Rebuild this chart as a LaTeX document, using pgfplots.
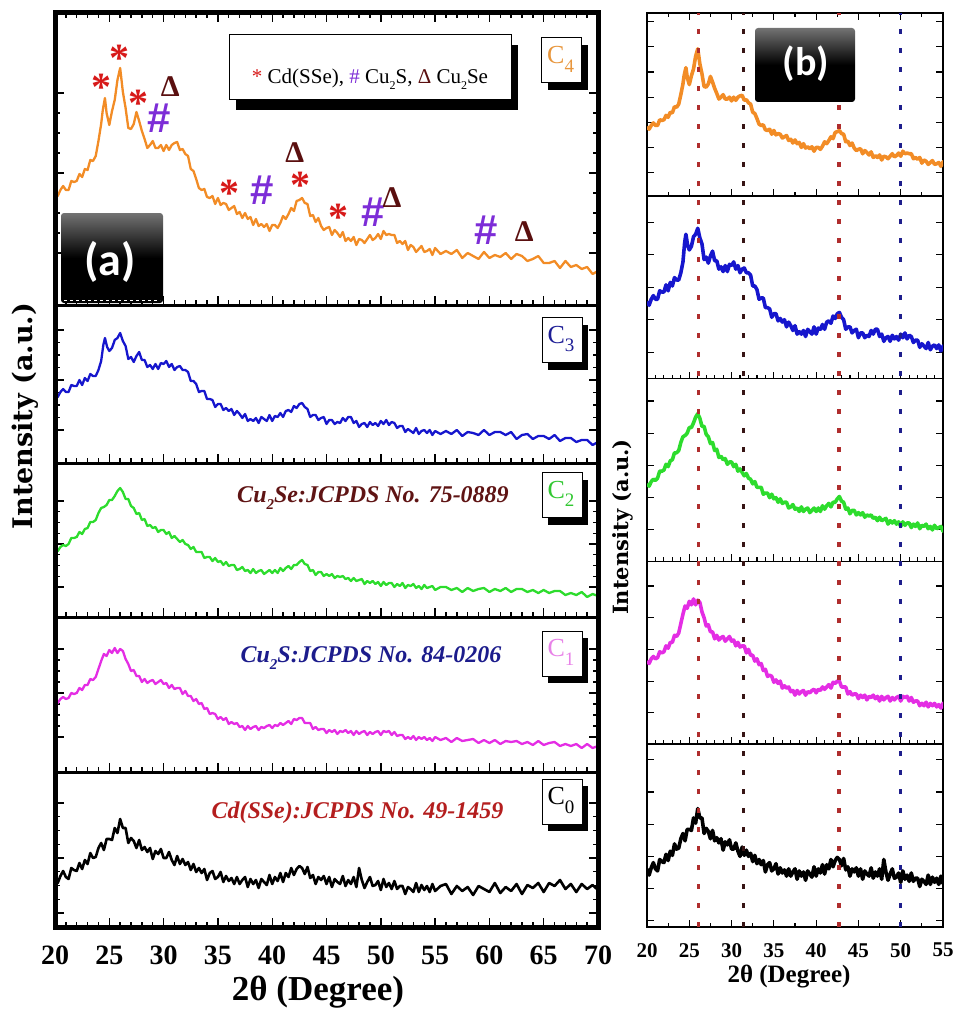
\documentclass[border=0pt]{standalone}
\usepackage{pgfplots}
\pgfplotsset{compat=1.18}
\usepackage{pgfplotstable}
\usepackage{fontspec}
\setmainfont{Liberation Serif}
\newfontfamily\djs{DejaVu Serif}
\newfontfamily\carl{Carlito}
\newfontfamily\lsans{Liberation Sans}
\newcommand{\fs}[1]{\fontsize{#1}{#1}\selectfont}

\definecolor{cOr}{RGB}{242,140,38}
\definecolor{cBl}{RGB}{22,22,205}
\definecolor{cGr}{RGB}{45,220,45}
\definecolor{cMg}{RGB}{228,45,228}
\definecolor{lOr}{RGB}{232,150,60}
\definecolor{lBl}{RGB}{30,30,150}
\definecolor{lGr}{RGB}{50,200,50}
\definecolor{lMg}{RGB}{232,130,232}
\definecolor{tMar}{RGB}{95,20,20}
\definecolor{tNav}{RGB}{28,28,140}
\definecolor{tRed}{RGB}{180,30,30}
\definecolor{sRed}{RGB}{215,25,25}
\definecolor{sPur}{RGB}{125,45,215}
\definecolor{sBro}{RGB}{90,15,15}
\definecolor{dRed}{RGB}{175,45,45}
\definecolor{dDk}{RGB}{55,20,20}
\definecolor{dBl}{RGB}{30,30,140}

\pgfplotstableread[row sep=\\]{x y\\20 113\\20.25 109\\20.5 115\\20.75 119\\21 115\\21.25 115\\21.5 124\\21.75 123\\22 124\\22.25 131\\22.5 128\\22.75 136\\23 135\\23.25 145\\23.5 144\\23.75 149\\24 164\\24.25 181\\24.4 195\\24.6 207\\24.75 192\\25 180\\25.25 194\\25.5 205\\25.75 225\\26 237\\26.25 213\\26.5 197\\26.75 177\\27 176\\27.25 181\\27.5 193\\27.75 184\\28 174\\28.25 166\\28.5 157\\28.75 160\\29 164\\29.25 157\\29.5 157\\29.75 160\\30 154\\30.25 160\\30.5 155\\30.75 160\\31 162\\31.25 163\\31.5 155\\31.75 156\\32 151\\32.25 149\\32.5 136\\32.75 134\\33 126\\33.25 117\\33.5 115\\33.75 116\\34 108\\34.25 107\\34.5 109\\34.75 101\\35 107\\35.25 100\\35.5 102\\35.75 101\\36 95\\36.25 97\\36.5 99\\36.75 91\\37 93\\37.25 87\\37.5 92\\37.75 86\\38 88\\38.25 80\\38.5 86\\38.75 79\\39 81\\39.25 78\\39.5 81\\39.75 74\\40 80\\40.25 80\\40.5 77\\40.75 82\\41 89\\41.25 86\\41.5 91\\41.75 97\\42 94\\42.25 104\\42.5 105\\42.75 107\\43 102\\43.25 101\\43.5 89\\43.75 90\\44 83\\44.25 87\\44.5 79\\44.75 75\\45 77\\45.25 78\\45.5 70\\45.75 75\\46 72\\46.25 68\\46.5 73\\46.75 64\\47 67\\47.25 64\\47.5 68\\47.75 60\\48 66\\48.25 65\\48.5 62\\48.75 66\\49 70\\49.25 65\\49.5 67\\49.75 71\\50 66\\50.25 74\\50.5 70\\50.75 71\\51 70\\51.25 70\\51.5 62\\51.75 64\\52 61\\52.25 64\\52.5 55\\52.75 60\\53 58\\53.25 53\\53.5 56\\53.75 59\\54 53\\54.25 54\\54.5 56\\54.75 50\\55 57\\55.5 51\\56 54\\56.5 51\\57 55\\57.5 47\\58 52\\58.5 49\\59 46\\59.5 53\\60 47\\60.5 50\\61 48\\61.5 52\\62 46\\62.5 51\\63 49\\63.5 44\\64 46\\64.5 49\\65 42\\65.5 42\\66 44\\66.5 37\\67 44\\67.5 38\\68 40\\68.5 36\\69 38\\69.5 31\\70 34\\}\tCfour

\pgfplotstableread[row sep=\\]{x y\\20 69\\20.25 66\\20.5 71\\20.75 74\\21 71\\21.25 71\\21.5 78\\21.75 77\\22 77\\22.25 83\\22.5 78\\22.75 85\\23 82\\23.25 89\\23.5 87\\23.75 87\\24 93\\24.25 102\\24.45 118\\24.6 125\\24.8 116\\25 112\\25.25 115\\25.5 123\\25.75 125\\26 130\\26.25 122\\26.5 117\\26.75 104\\27 106\\27.25 101\\27.5 107\\27.75 111\\28 103\\28.25 103\\28.5 96\\28.75 98\\29 94\\29.25 99\\29.5 94\\29.75 100\\30 99\\30.25 102\\30.5 96\\30.75 99\\31 93\\31.25 96\\31.5 97\\31.75 93\\32 93\\32.25 91\\32.5 82\\32.75 82\\33 79\\33.25 71\\33.5 72\\33.75 72\\34 64\\34.25 64\\34.5 63\\34.75 56\\35 59\\35.25 59\\35.5 53\\35.75 55\\36 52\\36.25 54\\36.5 48\\36.75 52\\37 49\\37.25 45\\37.5 49\\37.75 42\\38 44\\38.25 42\\38.5 45\\38.75 40\\39 46\\39.25 44\\39.5 42\\39.75 48\\40 42\\40.25 47\\40.5 46\\40.75 50\\41 46\\41.25 52\\41.5 53\\41.75 51\\42 57\\42.25 55\\42.5 59\\42.75 60\\43 56\\43.25 54\\43.5 46\\43.75 48\\44 48\\44.25 43\\44.5 45\\44.75 46\\45 39\\45.25 43\\45.5 43\\45.75 39\\46 41\\46.25 40\\46.5 45\\46.75 42\\47 46\\47.25 46\\47.5 40\\47.75 42\\48 36\\48.25 39\\48.5 40\\48.75 36\\49 41\\49.25 38\\49.5 40\\49.75 37\\50 42\\50.25 39\\50.5 43\\50.75 38\\51 41\\51.25 40\\51.5 35\\51.75 37\\52 37\\52.25 31\\52.5 34\\52.75 32\\53 30\\53.25 35\\53.5 29\\53.75 32\\54 33\\54.25 30\\54.5 33\\54.75 28\\55 32\\55.5 29\\56 32\\56.5 29\\57 33\\57.5 27\\58 31\\58.5 30\\59 28\\59.5 33\\60 28\\60.5 31\\61 31\\61.5 28\\62 31\\62.5 24\\63 28\\63.5 29\\64 24\\64.5 27\\65 27\\65.5 24\\66 28\\66.5 22\\67 25\\67.5 25\\68 21\\68.5 23\\69 23\\69.5 18\\70 21\\}\tCthree

\pgfplotstableread[row sep=\\]{x y\\20 68\\20.25 66\\20.5 70\\20.75 72\\21 71\\21.25 73\\21.5 79\\21.75 79\\22 80\\22.25 85\\22.5 83\\22.75 88\\23 89\\23.25 95\\23.5 95\\23.75 97\\24 104\\24.25 109\\24.5 110\\24.75 112\\25 117\\25.25 117\\25.5 121\\25.75 126\\26 129\\26.25 125\\26.5 118\\26.75 118\\27 111\\27.25 109\\27.5 103\\27.75 104\\28 97\\28.25 98\\28.5 91\\28.75 92\\29 89\\29.25 90\\29.5 85\\29.75 87\\30 87\\30.25 83\\30.5 85\\30.75 79\\31 81\\31.25 78\\31.5 75\\31.75 77\\32 73\\32.25 72\\32.5 68\\32.75 70\\33 65\\33.25 65\\33.5 65\\33.75 59\\34 60\\34.25 60\\34.5 56\\34.75 59\\35 55\\35.25 56\\35.5 52\\35.75 55\\36 51\\36.25 52\\36.5 52\\36.75 47\\37 48\\37.25 50\\37.5 46\\37.75 47\\38 44\\38.25 48\\38.5 44\\38.75 46\\39 47\\39.25 43\\39.5 45\\39.75 47\\40 44\\40.25 47\\40.5 44\\40.75 49\\41 46\\41.25 49\\41.5 51\\41.75 48\\42 52\\42.25 52\\42.5 55\\42.75 57\\43 53\\43.25 52\\43.5 46\\43.75 47\\44 42\\44.25 45\\44.5 45\\44.75 41\\45 43\\45.25 41\\45.5 43\\45.75 39\\46 41\\46.25 40\\46.5 41\\46.75 38\\47 39\\47.25 36\\47.5 39\\47.75 36\\48 37\\48.25 38\\48.5 33\\48.75 36\\49 34\\49.25 36\\49.5 33\\49.75 35\\50 31\\50.25 35\\50.5 32\\50.75 34\\51 34\\51.25 30\\51.5 33\\51.75 31\\52 34\\52.25 29\\52.5 32\\52.75 31\\53 33\\53.25 29\\53.5 31\\53.75 28\\54 32\\54.25 29\\54.5 30\\54.75 31\\55 27\\55.5 30\\56 30\\56.5 27\\57 29\\57.5 25\\58 29\\58.5 26\\59 28\\59.5 29\\60 25\\60.5 28\\61 26\\61.5 29\\62 25\\62.5 28\\63 28\\63.5 25\\64 27\\64.5 24\\65 27\\65.5 24\\66 26\\66.5 26\\67 22\\67.5 24\\68 22\\68.5 25\\69 20\\69.5 23\\70 21\\}\tCtwo

\pgfplotstableread[row sep=\\]{x y\\20 71\\20.25 69\\20.5 73\\20.75 75\\21 73\\21.25 74\\21.5 79\\21.75 78\\22 79\\22.25 84\\22.5 82\\22.75 87\\23 87\\23.25 93\\23.5 92\\23.75 95\\24 103\\24.25 111\\24.5 118\\24.75 116\\25 122\\25.25 119\\25.5 124\\25.75 119\\26 123\\26.25 121\\26.5 113\\26.75 108\\27 101\\27.25 102\\27.5 96\\27.75 96\\28 90\\28.25 93\\28.5 89\\28.75 91\\29 92\\29.25 88\\29.5 90\\29.75 92\\30 88\\30.25 89\\30.5 84\\30.75 87\\31 83\\31.25 84\\31.5 84\\31.75 78\\32 81\\32.25 76\\32.5 76\\32.75 71\\33 73\\33.25 68\\33.5 69\\33.75 63\\34 64\\34.25 58\\34.5 59\\34.75 58\\35 53\\35.25 55\\35.5 52\\35.75 54\\36 48\\36.25 50\\36.5 48\\36.75 49\\37 45\\37.25 46\\37.5 42\\37.75 46\\38 43\\38.25 45\\38.5 46\\38.75 42\\39 45\\39.25 44\\39.5 46\\39.75 47\\40 44\\40.25 47\\40.5 46\\40.75 49\\41 47\\41.25 49\\41.5 51\\41.75 48\\42 53\\42.25 52\\42.5 54\\42.75 54\\43 49\\43.25 49\\43.5 49\\43.75 43\\44 45\\44.25 42\\44.5 43\\44.75 43\\45 39\\45.25 42\\45.5 40\\45.75 42\\46 38\\46.25 41\\46.5 40\\46.75 42\\47 39\\47.25 41\\47.5 37\\47.75 41\\48 38\\48.25 40\\48.5 41\\48.75 37\\49 40\\49.25 38\\49.5 40\\49.75 41\\50 37\\50.25 41\\50.5 40\\50.75 41\\51 37\\51.25 40\\51.5 36\\51.75 37\\52 37\\52.25 33\\52.5 35\\52.75 33\\53 36\\53.25 32\\53.5 35\\53.75 33\\54 35\\54.25 32\\54.5 34\\54.75 31\\55 35\\55.5 32\\56 34\\56.5 30\\57 34\\57.5 31\\58 32\\58.5 33\\59 29\\59.5 32\\60 29\\60.5 32\\61 28\\61.5 31\\62 30\\62.5 31\\63 28\\63.5 30\\64 27\\64.5 31\\65 27\\65.5 29\\66 30\\66.5 26\\67 28\\67.5 26\\68 28\\68.5 24\\69 28\\69.5 24\\70 26\\}\tCone

\pgfplotstableread[row sep=\\]{x y\\20 50\\20.25 44\\20.5 51\\20.75 56\\21 50\\21.25 48\\21.5 59\\21.75 57\\22 56\\22.25 64\\22.5 58\\22.75 67\\23 63\\23.25 74\\23.5 69\\23.75 70\\24 79\\24.25 84\\24.5 77\\24.75 88\\25 88\\25.25 87\\25.5 99\\25.75 94\\26 108\\26.25 99\\26.5 99\\26.75 84\\27 89\\27.25 86\\27.5 79\\27.75 87\\28 77\\28.25 80\\28.5 75\\28.75 79\\29 68\\29.25 76\\29.5 73\\29.75 78\\30 69\\30.25 69\\30.5 75\\30.75 67\\31 62\\31.25 71\\31.5 63\\31.75 68\\32 62\\32.25 65\\32.5 57\\32.75 63\\33 55\\33.25 59\\33.5 54\\33.75 58\\34 47\\34.25 54\\34.5 56\\34.75 48\\35 50\\35.25 55\\35.5 45\\35.75 51\\36 46\\36.25 49\\36.5 43\\36.75 50\\37 43\\37.25 47\\37.5 50\\37.75 40\\38 48\\38.25 43\\38.5 47\\38.75 39\\39 48\\39.25 45\\39.5 42\\39.75 52\\40 43\\40.25 50\\40.5 46\\40.75 54\\41 45\\41.25 54\\41.5 50\\41.75 59\\42 52\\42.25 58\\42.5 61\\42.75 59\\43 53\\43.25 60\\43.5 49\\43.75 52\\44 43\\44.25 50\\44.5 47\\44.75 51\\45 43\\45.25 50\\45.5 40\\45.75 48\\46 45\\46.25 43\\46.5 51\\46.75 41\\47 47\\47.25 43\\47.5 50\\47.75 40\\48 59\\48.25 47\\48.5 39\\48.75 45\\49 50\\49.25 41\\49.5 42\\49.75 46\\50 37\\50.25 48\\50.5 40\\50.75 44\\51 38\\51.25 46\\51.5 38\\51.75 41\\52 41\\52.25 33\\52.5 40\\52.75 38\\53 35\\53.25 44\\53.5 35\\53.75 42\\54 37\\54.25 41\\54.5 35\\54.75 43\\55 36\\55.5 41\\56 43\\56.5 33\\57 41\\57.5 36\\58 40\\58.5 32\\59 41\\59.5 38\\60 35\\60.5 44\\61 34\\61.5 40\\62 36\\62.5 43\\63 33\\63.5 42\\64 39\\64.5 44\\65 35\\65.5 44\\66 41\\66.5 47\\67 38\\67.5 43\\68 35\\68.5 43\\69 38\\69.5 42\\70 37\\}\tCzero

\pgfplotsset{
  pa/.style={scale only axis, width=543pt, xmin=20, xmax=70, ymin=0,
    xtick={20,25,...,70}, minor x tick num=4, xticklabels={}, yticklabels={},
    tick align=inside, axis line style={line width=3pt},
    tick style={black, line width=1.4pt}, major tick length=9pt, minor tick length=5pt,
    xtick pos=left, ytick pos=both, minor y tick num=3, anchor=south west},
  pb/.style={scale only axis, width=296pt, height=182.8pt, xmin=20, xmax=55,
    xtick={20,25,...,55}, xticklabels={}, yticklabels={},
    tick align=inside, axis line style={line width=1.6pt},
    tick style={black, line width=1.1pt}, major tick length=7pt, minor tick length=4pt,
    xtick pos=left, ytick pos=both, anchor=south west},
  ca/.style={line width=2.3pt, line join=round},
  cb/.style={line width=3.6pt, line join=round},
}

\newcommand{\clab}[4]{%
  \fill[black] (#1-20+6,-#2-22.5-7) rectangle (#1+20+6,-#2+22.5-7);
  \filldraw[fill=white,draw=black,line width=1pt] (#1-20,-#2-22.5) rectangle (#1+20,-#2+22.5);
  \node[text=#3, font=\fs{26}, inner sep=0pt] at (#1-1,-#2+1) {C\raisebox{-0.32em}{\fs{19}#4}};
}

\begin{document}
\begin{tikzpicture}[x=1pt,y=1pt]
\useasboundingbox (0,0) rectangle (956,-1011);

% ---------- panel (a) ----------
\begin{axis}[pa, height=292pt, ymax=292, at={(55pt,-305pt)}, xtick pos=both, ytick={52,132,212}]
\addplot[cOr, ca] table[x=x,y=y] {\tCfour};
\node[text=sRed, font=\bfseries\fs{40}, yshift=-5pt] at (axis cs:24.27,223) {*};
\node[text=sRed, font=\bfseries\fs{40}, yshift=-5pt] at (axis cs:25.97,252) {*};
\node[text=sRed, font=\bfseries\fs{40}, yshift=-5pt] at (axis cs:27.68,207) {*};
\node[text=sPur, font=\lsans\bfseries\fs{42}] at (axis cs:29.56,187) {\#};
\node[text=sBro, font=\bfseries\fs{30}] at (axis cs:30.62,218) {Δ};
\node[text=sRed, font=\bfseries\fs{40}, yshift=-5pt] at (axis cs:36.08,117) {*};
\node[text=sPur, font=\lsans\bfseries\fs{42}] at (axis cs:39.06,115) {\#};
\node[text=sBro, font=\bfseries\fs{30}] at (axis cs:42.07,152) {Δ};
\node[text=sRed, font=\bfseries\fs{40}, yshift=-5pt] at (axis cs:42.6,125) {*};
\node[text=sRed, font=\bfseries\fs{40}, yshift=-5pt] at (axis cs:46.1,93) {*};
\node[text=sPur, font=\lsans\bfseries\fs{42}] at (axis cs:49.28,93) {\#};
\node[text=sBro, font=\bfseries\fs{30}] at (axis cs:51.03,107) {Δ};
\node[text=sPur, font=\lsans\bfseries\fs{42}] at (axis cs:59.69,75) {\#};
\node[text=sBro, font=\bfseries\fs{30}] at (axis cs:63.2,73) {Δ};
\end{axis}

\begin{axis}[pa, height=158pt, ymax=158, at={(55pt,-463pt)}, ytick={33,83,133}]
\addplot[cBl, ca] table[x=x,y=y] {\tCthree};
\end{axis}

\begin{axis}[pa, height=154pt, ymax=154, at={(55pt,-617pt)}, ytick={30,73,116}]
\addplot[cGr, ca] table[x=x,y=y] {\tCtwo};
\end{axis}

\begin{axis}[pa, height=155pt, ymax=155, at={(55pt,-772pt)}, ytick={35,79,123}]
\addplot[cMg, ca] table[x=x,y=y] {\tCone};
\end{axis}

\begin{axis}[pa, height=155pt, ymax=155, at={(55pt,-927pt)}, ytick={14,69,124},
  xticklabels={20,25,30,35,40,45,50,55,60,65,70},
  xticklabel style={font=\bfseries\fs{28}, inner sep=0pt, yshift=-18.5pt}]
\addplot[black, ca, line width=2.6pt] table[x=x,y=y] {\tCzero};
\end{axis}

\draw[line width=5pt] (55,-13) rectangle (598,-927);

% labels and boxes in (a)
\fill[black] (229.6+6.5,-35-10) rectangle (511+6.5,-100-10);
\filldraw[fill=white,draw=black,line width=1pt] (229.6,-35) rectangle (511,-100);
\node[anchor=base, font=\fs{21}, inner sep=0pt] at (370,-83.5)
  {\textcolor{sRed}{*} Cd(SSe), \textcolor{sPur}{\#} Cu\raisebox{-0.3em}{\fs{12}2}S, \textcolor{sBro}{Δ} Cu\raisebox{-0.3em}{\fs{12}2}Se};

\clab{561.6}{60.5}{lOr}{4}
\clab{562}{340}{lBl}{3}
\clab{562}{495}{lGr}{2}
\clab{562}{653.5}{lMg}{1}
\clab{562}{801.5}{black}{0}

\node[anchor=base, text=tMar, font=\bfseries\itshape\fs{24}, inner sep=0pt] at (373,-502)
  {Cu\raisebox{-0.3em}{\fs{15}2}Se:JCPDS No. 75-0889};
\node[anchor=base, text=tNav, font=\bfseries\itshape\fs{24}, inner sep=0pt] at (371,-662)
  {Cu\raisebox{-0.3em}{\fs{15}2}S:JCPDS No. 84-0206};
\node[anchor=base, text=tRed, font=\bfseries\itshape\fs{24}, inner sep=0pt] at (357.5,-818)
  {Cd(SSe):JCPDS No. 49-1459};

\shade[top color=black!55, bottom color=black, middle color=black, rounded corners=3pt] (61,-213) rectangle (163,-303);
\draw[white, dashed, line width=0.6pt] (64,-300) -- (160,-300);
\node[white, font=\carl\bfseries\fs{46}] at (110,-262) {(a)};

\node[rotate=90, font=\djs\bfseries\fs{27}] at (25,-416) {Intensity (a.u.)};
\node[font=\bfseries\fs{35}] at (318,-992) {2θ (Degree)};

% ---------- panel (b) ----------
\begin{axis}[pb, at={(647pt,-195.8pt)}, ymin=3, ymax=294, xtick pos=both, minor x tick num=1, ytick distance=40]
\addplot[cOr, cb] table[x=x,y=y] {\tCfour};
\end{axis}
\begin{axis}[pb, at={(647pt,-378.6pt)}, ymin=5, ymax=157, minor x tick num=4, ytick distance=27]
\addplot[cBl, cb] table[x=x,y=y] {\tCthree};
\end{axis}
\begin{axis}[pb, at={(647pt,-561.4pt)}, ymin=0.6, ymax=159.5, minor x tick num=4, ytick distance=28]
\addplot[cGr, cb] table[x=x,y=y] {\tCtwo};
\end{axis}
\begin{axis}[pb, at={(647pt,-744.2pt)}, ymin=0.2, ymax=156, minor x tick num=4, ytick distance=27]
\addplot[cMg, cb] table[x=x,y=y] {\tCone};
\end{axis}
\begin{axis}[pb, at={(647pt,-927pt)}, ymin=-6, ymax=170, minor x tick num=1, ytick distance=31,
  xticklabels={20,25,30,35,40,45,50,55},
  xticklabel style={font=\bfseries\fs{21}, inner sep=0pt, yshift=-16pt}]
\addplot[black, cb] table[x=x,y=y] {\tCzero};
\end{axis}

\begin{axis}[scale only axis, width=296pt, height=914pt, at={(647pt,-927pt)}, anchor=south west,
  xmin=20, xmax=55, ymin=0, ymax=1, hide axis, clip=false]
\addplot[dRed, line width=3.5pt, dash pattern=on 5pt off 14pt] coordinates {(26.1,0) (26.1,1)};
\addplot[dDk, line width=3.5pt, dash pattern=on 5pt off 14pt] coordinates {(31.4,0) (31.4,1)};
\addplot[dRed, line width=3.5pt, dash pattern=on 5pt off 14pt] coordinates {(42.7,0) (42.7,1)};
\addplot[dBl, line width=3.5pt, dash pattern=on 5pt off 14pt] coordinates {(50,0) (50,1)};
\end{axis}

\shade[top color=black!55, bottom color=black, middle color=black, rounded corners=3pt] (755,-28) rectangle (855,-102);
\node[white, font=\carl\bfseries\fs{40}] at (806,-64) {(b)};

\node[rotate=90, font=\djs\bfseries\fs{21}] at (623,-527) {Intensity (a.u.)};
\node[font=\bfseries\fs{25}] at (789,-977) {2θ (Degree)};
\end{tikzpicture}
\end{document}
